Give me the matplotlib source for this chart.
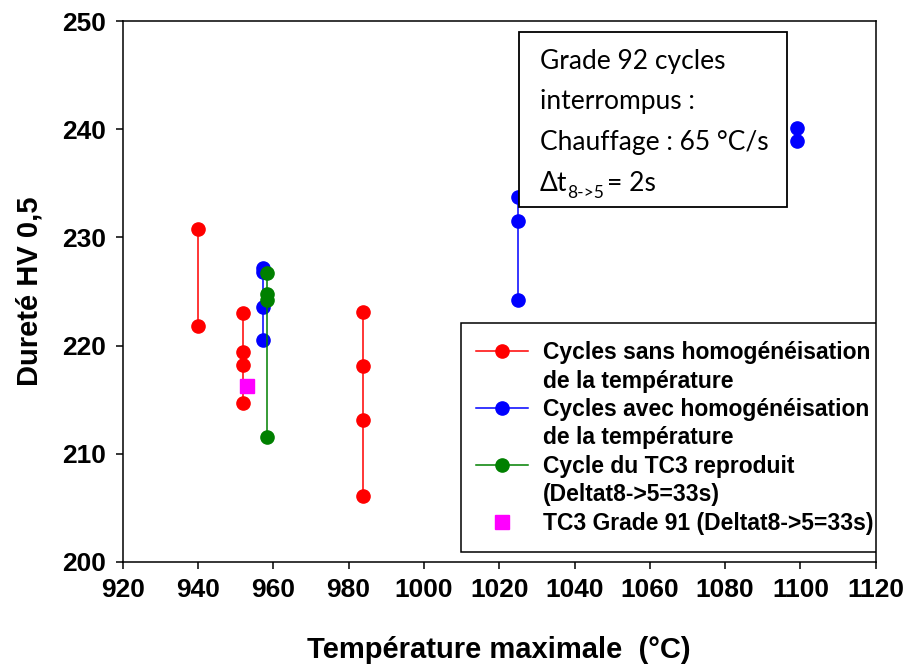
import matplotlib.pyplot as plt
from matplotlib.lines import Line2D
from matplotlib.patches import Rectangle

# Cycles sans homogénéisation de la température (one vertical group per Tmax)
sans_T = [940.1, 952.0, 983.7]
sans_HV = [[230.8, 221.8],
           [223.0, 219.4, 218.2, 214.7],
           [223.1, 218.1, 213.1, 206.1]]

# Cycles avec homogénéisation de la température
avec_T = [957.3, 1024.9, 1099.0]
avec_HV = [[227.2, 226.8, 223.6, 220.5],
           [233.7, 231.5, 224.2],
           [240.1, 238.9]]

# Cycle du TC3 reproduit
tc3_T = 958.3
tc3_HV = [226.7, 224.8, 224.2, 211.5]

# TC3 Grade 91
g91_T = 953.1
g91_HV = 216.3

plt.rcParams['font.family'] = ['Liberation Sans', 'DejaVu Sans']

fig = plt.figure(figsize=(9.06, 6.64), dpi=100)
ax = fig.add_axes([0.1354, 0.154, 0.8312, 0.814])

ms = 9.5
lw = 1.1
for t, hv in zip(sans_T, sans_HV):
    ax.plot([t] * len(hv), hv, color='#ff0000', marker='o', ms=ms, lw=lw, zorder=3)
for t, hv in zip(avec_T, avec_HV):
    ax.plot([t] * len(hv), hv, color='#0000ff', marker='o', ms=ms, lw=lw, zorder=3)
ax.plot([tc3_T] * len(tc3_HV), tc3_HV, color='#008000', marker='o', ms=ms, lw=lw, zorder=4)
ax.plot([g91_T], [g91_HV], color='#ff00ff', marker='s', ms=ms, ls='none', zorder=5)

ax.set_xlim(920, 1120)
ax.set_ylim(200, 250)
ax.set_xticks(range(920, 1121, 20))
ax.set_yticks(range(200, 251, 10))
ax.tick_params(direction='out', length=5, width=1.1, labelsize=19,
               top=False, right=False, pad=7)
for lab in ax.get_xticklabels() + ax.get_yticklabels():
    lab.set_fontweight('bold')
for sp in ax.spines.values():
    sp.set_linewidth(1.1)

ax.set_xlabel('Température maximale  (°C)', fontsize=21, fontweight='bold', labelpad=24)
ax.set_ylabel('Dureté HV 0,5', fontsize=21, fontweight='bold', labelpad=13)

# legend frame drawn separately; the last label runs slightly past it
ax.add_patch(Rectangle((0.449, 0.018), 0.551, 0.423, transform=ax.transAxes,
                       facecolor='white', edgecolor='black', lw=1.1, zorder=6))

# legend: one row per text line, blank handles for the continuation lines
blank = Line2D([], [], color='none')
handles = [
    Line2D([], [], color='#ff0000', marker='o', ms=ms, lw=lw), blank,
    Line2D([], [], color='#0000ff', marker='o', ms=ms, lw=lw), blank,
    Line2D([], [], color='#008000', marker='o', ms=ms, lw=lw), blank,
    Line2D([], [], color='#ff00ff', marker='s', ms=ms, ls='none'),
]
labels = ['Cycles sans homogénéisation', 'de la température',
          'Cycles avec homogénéisation', 'de la température',
          'Cycle du TC3 reproduit', '(Deltat8->5=33s)',
          'TC3 Grade 91 (Deltat8->5=33s)']
leg = ax.legend(handles, labels, loc='upper left', bbox_to_anchor=(0.469, 0.408),
                borderaxespad=0, frameon=False,
                handlelength=2.27, handletextpad=0.65, labelspacing=0.235,
                borderpad=0, numpoints=1,
                prop={'family': 'Liberation Sans', 'weight': 'bold', 'size': 16.5})
leg.set_zorder(7)

# note box
ax.add_patch(Rectangle((0.526, 0.656), 0.356, 0.325, transform=ax.transAxes,
                       facecolor='white', edgecolor='black', lw=1.3, zorder=6))
note_font = {'family': 'Lato', 'size': 19}
for y, s in [(0.926, 'Grade 92 cycles'), (0.852, 'interrompus :'),
             (0.775, 'Chauffage : 65 °C/s')]:
    ax.text(0.554, y, s, transform=ax.transAxes, va='center', zorder=7, **note_font)
t1 = ax.text(0.554, 0.699, 'Δt', transform=ax.transAxes, va='center', zorder=7, **note_font)
t2 = ax.annotate('8->5', xy=(1, 0), xycoords=t1, xytext=(0, -3),
                 textcoords='offset points', va='bottom', ha='left',
                 family='Lato', size=12.5, zorder=7)
ax.annotate('= 2s', xy=(1, 0), xycoords=t2, xytext=(2, 3),
            textcoords='offset points', va='bottom', ha='left', zorder=7, **note_font)

fig.savefig('out.png', dpi=100)
